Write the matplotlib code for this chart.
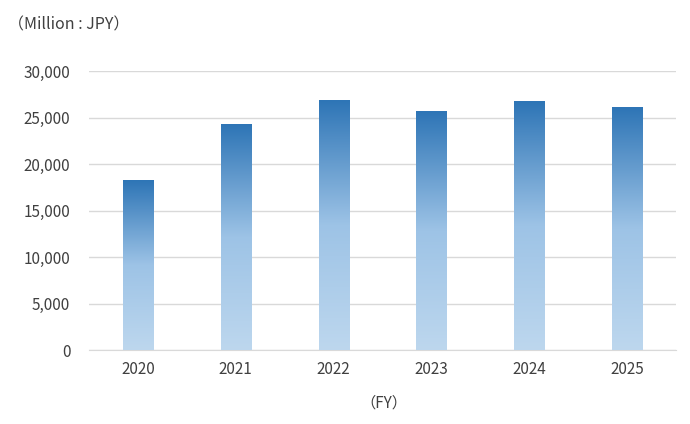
import matplotlib.pyplot as plt
import numpy as np
from matplotlib.colors import LinearSegmentedColormap
from matplotlib.ticker import FuncFormatter

plt.rcParams['font.family'] = ['Noto Sans CJK JP', 'DejaVu Sans']

years = ["2020", "2021", "2022", "2023", "2024", "2025"]
sales = [18200, 24200, 26800, 25600, 26700, 26100]

fig = plt.figure(figsize=(6.9, 4.24), dpi=100)
ax = fig.add_axes([0.129, 0.1745, 0.851, 0.658])

cmap = LinearSegmentedColormap.from_list("bar", ["#BDD7EE", "#9DC3E6", "#2E75B6"])
grad = np.linspace(0, 1, 256).reshape(-1, 1)
width = 0.31

bars = ax.bar(range(len(years)), sales, width=width, color="none", zorder=3)
for b in bars:
    x0, h = b.get_x(), b.get_height()
    ax.imshow(grad, cmap=cmap, origin="lower", aspect="auto",
              extent=[x0, x0 + width, 0, h], zorder=3)

ax.set_xlim(-0.5, len(years) - 0.5)
ax.set_ylim(0, 30000)
ax.set_yticks(range(0, 30001, 5000))
ax.yaxis.set_major_formatter(FuncFormatter(lambda v, p: f"{int(v):,}"))
ax.set_xticks(range(len(years)))
ax.set_xticklabels(years)

ax.grid(axis="y", color="#D9D9D9", linewidth=1, zorder=0)
for s in ["top", "right", "left"]:
    ax.spines[s].set_visible(False)
ax.spines["bottom"].set_color("#D9D9D9")
ax.tick_params(axis="both", length=0, labelsize=11, colors="#404040")
ax.tick_params(axis="y", pad=13.5)
ax.tick_params(axis="x", pad=8)

fig.text(0.011, 0.94, "（Million : JPY）", fontsize=11.5, color="#404040",
         ha="left", va="center")
fig.text(0.556, 0.05, "（FY）", fontsize=11, color="#404040",
         ha="center", va="center")

fig.savefig("out.png", dpi=100)
